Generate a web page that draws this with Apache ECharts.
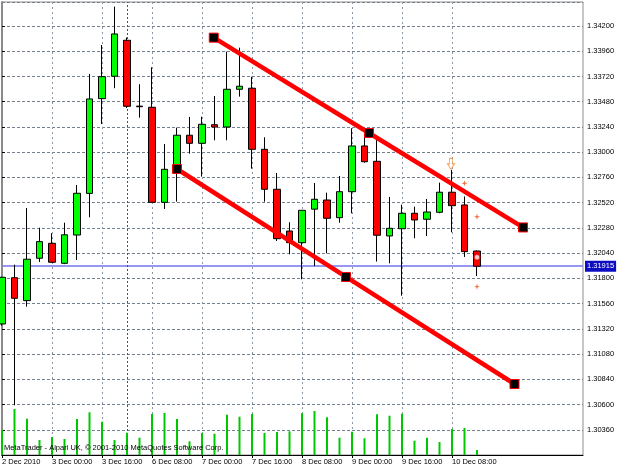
<!DOCTYPE html>
<html>
<head>
<meta charset="utf-8">
<title>EURUSD H4</title>
<script src="https://cdn.jsdelivr.net/npm/echarts@6.0.0/dist/echarts.min.js"></script>
<style>
html, body { margin: 0; padding: 0; background: #fff; }
#chart { width: 625px; height: 469px; }
</style>
</head>
<body>
<div id="chart"></div>
<script>
// H4 bars, 2 Dec 2010 08:00 .. 10 Dec 2010 08:00
var opens = [1.31366, 1.31806, 1.31588, 1.31991, 1.32133, 1.31943, 1.32212, 1.32608, 1.33509, 1.33722,
	1.34064, 1.33438, 1.33427, 1.32523, 1.32850, 1.33161, 1.33084, 1.33261, 1.33239, 1.33598,
	1.33608, 1.33027, 1.32647, 1.32250, 1.32139, 1.32458, 1.32545, 1.32377, 1.32624, 1.33059,
	1.32913, 1.32203, 1.32272, 1.32419, 1.32362, 1.32428, 1.32619, 1.32498, 1.32060];
var closes = [1.31810, 1.31610, 1.31982, 1.32149, 1.31953, 1.32214, 1.32609, 1.33506, 1.33718, 1.34124,
	1.33436, 1.33432, 1.32523, 1.32837, 1.33161, 1.33084, 1.33265, 1.33239, 1.33598, 1.33627,
	1.33027, 1.32647, 1.32177, 1.32139, 1.32447, 1.32552, 1.32371, 1.32624, 1.33059, 1.32909,
	1.32210, 1.32276, 1.32419, 1.32355, 1.32431, 1.32619, 1.32491, 1.32054, 1.31915];
var lows = [1.31350, 1.30593, 1.31531, 1.31956, 1.31946, 1.31935, 1.31975, 1.32381, 1.33268, 1.33608,
	1.33420, 1.33328, 1.32517, 1.32460, 1.32529, 1.32986, 1.32767, 1.33113, 1.33113, 1.33528,
	1.32843, 1.32529, 1.32155, 1.32029, 1.31791, 1.31918, 1.32038, 1.32329, 1.32419, 1.32900,
	1.31959, 1.31943, 1.31635, 1.32181, 1.32203, 1.32419, 1.32238, 1.32003, 1.31822];
var highs = [1.31815, 1.31930, 1.32469, 1.32282, 1.32229, 1.32329, 1.32688, 1.33744, 1.34019, 1.34384,
	1.34090, 1.33646, 1.33807, 1.33078, 1.33233, 1.33335, 1.33337, 1.33534, 1.33956, 1.33994,
	1.33718, 1.33142, 1.32802, 1.32333, 1.32450, 1.32707, 1.32615, 1.32773, 1.33227, 1.33230,
	1.33163, 1.32574, 1.32501, 1.32482, 1.32555, 1.32710, 1.32831, 1.32579, 1.32065];
// tick volume
var volumes = [5000, 9200, 7260, 3000, 3600, 3200, 7200, 8540, 6660, 3000,
	4460, 3460, 8200, 8400, 7200, 2740, 4400, 4260, 8060, 7660,
	8200, 4400, 4600, 4740, 8340, 8800, 7540, 3460, 4660, 3340,
	8140, 7860, 8260, 2860, 3460, 2600, 5200, 5400, 1000];

// time scale labels, one every 4 bars
var timeLabels = ['2 Dec 2010', '3 Dec 00:00', '3 Dec 16:00', '6 Dec 08:00', '7 Dec 00:00',
	'7 Dec 16:00', '8 Dec 08:00', '9 Dec 00:00', '9 Dec 16:00', '10 Dec 08:00'];

// channel objects [bar, price]
var upperLine = [[16.94, 1.34089], [29.36, 1.33182], [41.68, 1.32284]];
var lowerLine = [[14.0, 1.32840], [27.52, 1.31813], [41.0, 1.30795]];

var bidPrice = 1.31915;
var separatorBar = 10;

// order marks
var arrowMarks = [[35.92, 1.32888]];
var stopMarks = [[37, 1.32704], [38, 1.32386], [38, 1.31721]];
var closeMarks = [[38, 1.32000]];

var FONT = "'Liberation Sans', Arial, sans-serif";

var candles = [];
var vols = [];
for (var i = 0; i < opens.length; i++) {
	candles.push([i, opens[i], closes[i], lows[i], highs[i]]);
	vols.push([i, volumes[i]]);
}

var myChart = echarts.init(document.getElementById('chart'));
var option = {
	animation: false,
	backgroundColor: '#fff',
	textStyle: { fontFamily: FONT },
	grid: {
		left: 2, top: 2, width: 581, height: 453,
		show: true, borderColor: '#8f8f8f', borderWidth: 1,
		outerBoundsMode: 'none'
	},
	xAxis: {
		type: 'value',
		min: 0,
		max: 46.48,
		interval: 2,
		axisLine: { show: true, lineStyle: { color: '#000', width: 1 } },
		axisTick: {
			show: true, length: 3, lineStyle: { color: '#000' },
			customValues: [0, 4, 8, 12, 16, 20, 24, 28, 32, 36]
		},
		axisLabel: {
			align: 'left', margin: 3, fontSize: 7.5, color: '#000', fontFamily: FONT,
			showMaxLabel: false,
			formatter: function (v) {
				if (Math.abs(v % 4) < 1e-6) {
					return timeLabels[Math.round(v / 4)] || '';
				}
				return '';
			}
		},
		splitLine: { show: true, lineStyle: { color: '#8a97a5', type: [2, 3], width: 1 } }
	},
	yAxis: [{
		type: 'value',
		position: 'right',
		min: 1.3012,
		max: 1.34428,
		interval: 0.0024,
		scale: true,
		axisLine: { show: true, lineStyle: { color: '#8a8a8a', width: 2 } },
		axisTick: { show: true, length: 3, lineStyle: { color: '#000' } },
		axisLabel: {
			margin: 4, fontSize: 7.5, color: '#000', fontFamily: FONT,
			showMinLabel: false, showMaxLabel: false,
			formatter: function (v) { return v.toFixed(5); }
		},
		splitLine: { show: true, lineStyle: { color: '#74808f', type: [3, 2], width: 1 } }
	}, {
		type: 'value',
		show: false,
		min: 0,
		max: 90600,
		splitLine: { show: false }
	}],
	graphic: [{
		type: 'text',
		left: 4,
		top: 444,
		z: 10,
		style: {
			text: 'MetaTrader - Alpari UK, \u00a9 2001-2010 MetaQuotes Software Corp.',
			fontSize: 7.5, fontFamily: FONT, fill: '#000'
		}
	}],
	series: [
		{
			name: 'volume',
			type: 'bar',
			yAxisIndex: 1,
			data: vols,
			barWidth: 2,
			itemStyle: { color: '#00c800' },
			z: 1
		},
		{
			name: 'EURUSD',
			type: 'candlestick',
			data: candles,
			barWidth: 7,
			itemStyle: {
				color: '#00ff00', color0: '#ff0000',
				borderColor: '#000', borderColor0: '#000', borderWidth: 1
			},
			z: 3,
			markLine: {
				silent: true,
				symbol: 'none',
				precision: 5,
				z: 1,
				animation: false,
				data: [
					{
						yAxis: bidPrice,
						lineStyle: { color: '#7575ee', width: 1.5, type: 'solid' },
						label: {
							show: true, position: 'end', distance: 2,
							formatter: function () { return bidPrice.toFixed(5); },
							color: '#fff', backgroundColor: '#0c0cc4',
							padding: [2, 2, 1, 2], fontSize: 7.5, fontFamily: FONT
						}
					},
					{
						xAxis: separatorBar,
						lineStyle: { color: '#4a535c', width: 1, type: [2, 2] },
						label: { show: false }
					}
				]
			}
		},
		{
			name: 'channel top',
			type: 'line',
			data: upperLine,
			symbol: 'rect',
			symbolSize: 9,
			showAllSymbol: true,
			lineStyle: { color: '#ff0000', width: 4.5 },
			itemStyle: { color: '#000', borderColor: '#ff0000', borderWidth: 1 },
			z: 5
		},
		{
			name: 'channel bottom',
			type: 'line',
			data: lowerLine,
			symbol: 'rect',
			symbolSize: 9,
			showAllSymbol: true,
			lineStyle: { color: '#ff0000', width: 4.5 },
			itemStyle: { color: '#000', borderColor: '#ff0000', borderWidth: 1 },
			z: 5
		},
		{
			name: 'arrow',
			type: 'scatter',
			data: arrowMarks,
			symbol: 'path://M3,0 L7,0 L7,6 L10,6 L5,12 L0,6 L3,6 Z',
			symbolSize: [7, 11],
			itemStyle: { color: '#fff', borderColor: '#f08a30', borderWidth: 1 },
			z: 6
		},
		{
			name: 'stops',
			type: 'scatter',
			data: stopMarks,
			symbol: 'path://M5,0 L6.2,3.8 L10,5 L6.2,6.2 L5,10 L3.8,6.2 L0,5 L3.8,3.8 Z',
			symbolSize: 6,
			itemStyle: { color: '#f04a10' },
			z: 6
		},
		{
			name: 'close',
			type: 'scatter',
			data: closeMarks,
			symbol: 'circle',
			symbolSize: 6,
			itemStyle: { color: '#fff', borderColor: '#e00000', borderWidth: 1.5 },
			z: 6
		}
	]
};
if (option && typeof option === "object") {
	myChart.setOption(option, true);
}
</script>
</body>
</html>
